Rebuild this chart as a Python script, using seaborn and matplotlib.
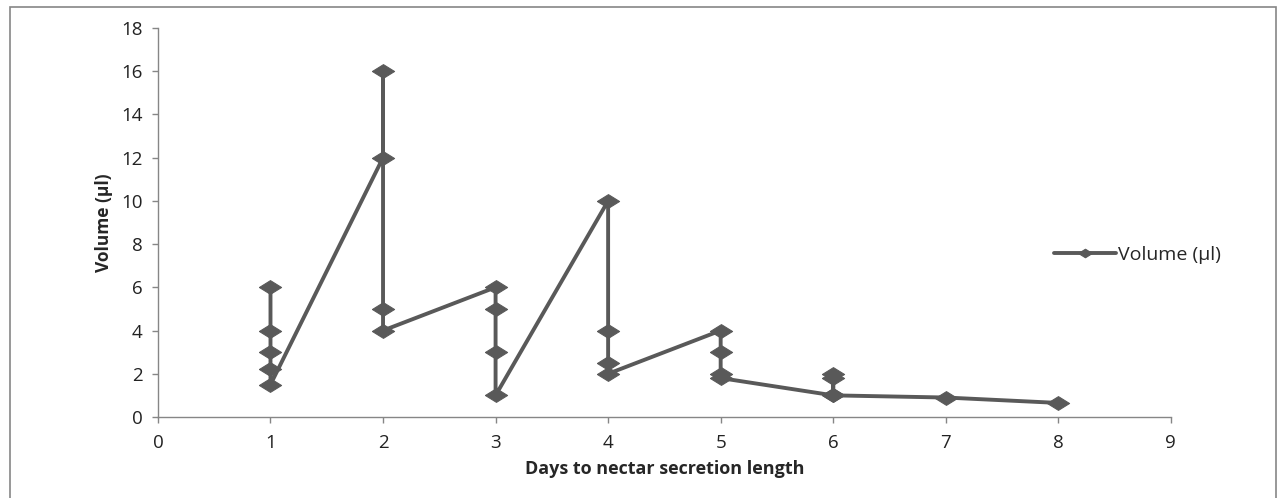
import numpy as np
import pandas as pd
import seaborn as sns
import matplotlib.pyplot as plt
from matplotlib.patches import Rectangle

# data in the order the series is drawn
days = [1, 1, 1, 1, 1,
        2, 2, 2, 2,
        3, 3, 3, 3,
        4, 4, 4, 4,
        5, 5, 5, 5,
        6, 6, 6, 6,
        7, 8]
volume = [6, 4, 3, 2.2, 1.5,
          12, 16, 5, 4,
          6, 5, 3, 1,
          10, 4, 2.5, 2,
          4, 3, 2, 1.8,
          1, 2, 1.8, 1,
          0.9, 0.65]

x_ticks = list(range(0, 10))
y_ticks = list(range(0, 20, 2))

df = pd.DataFrame({'Days': days, 'Volume': volume})

sns.set_style('white')
plt.rcParams['font.family'] = ['Open Sans', 'DejaVu Sans']

fig = plt.figure(figsize=(12.81, 4.98), dpi=100)
ax = fig.add_axes([0.1233, 0.1627, 0.7907, 0.7811])

diamond = [(-1, 0), (0, 0.62), (1, 0), (0, -0.62), (-1, 0)]
line_col = '#595959'

sns.lineplot(data=df, x='Days', y='Volume', sort=False, estimator=None,
             color=line_col, linewidth=2.8, marker=diamond, markersize=16,
             markeredgecolor=line_col, markerfacecolor=line_col,
             label='Volume (µl)', ax=ax)

ax.set_xlim(0, 9)
ax.set_ylim(0, 18)
ax.set_xticks(x_ticks)
ax.set_yticks(y_ticks)
ax.tick_params(axis='both', labelsize=13.5, colors='#222222', length=4,
               width=1, pad=7, direction='out', left=True, bottom=True)
ax.tick_params(axis='x', pad=8)
ax.tick_params(axis='both', color='#868686')

for side in ['top', 'right']:
    ax.spines[side].set_visible(False)
for side in ['left', 'bottom']:
    ax.spines[side].set_color('#868686')
    ax.spines[side].set_linewidth(1)

ax.set_xlabel('Days to nectar secretion length', fontsize=13,
              fontweight='bold', labelpad=6)
ax.set_ylabel('Volume (µl)', fontsize=12.5, fontweight='bold', labelpad=6)

leg = ax.legend(loc='center left', bbox_to_anchor=(1036 / 1281, 1 - 255 / 498),
                bbox_transform=fig.transFigure, frameon=False, fontsize=14,
                handlelength=3.2, handletextpad=0.1)
for h in leg.legend_handles:
    h.set_markersize(10)

# outer chart border
fig.patches.append(Rectangle((10 / 1281, -0.02), 1266 / 1281, 1.02 - 7 / 498,
                             transform=fig.transFigure, fill=False,
                             edgecolor='#868686', linewidth=1.2))

fig.savefig('out.png', dpi=100)
